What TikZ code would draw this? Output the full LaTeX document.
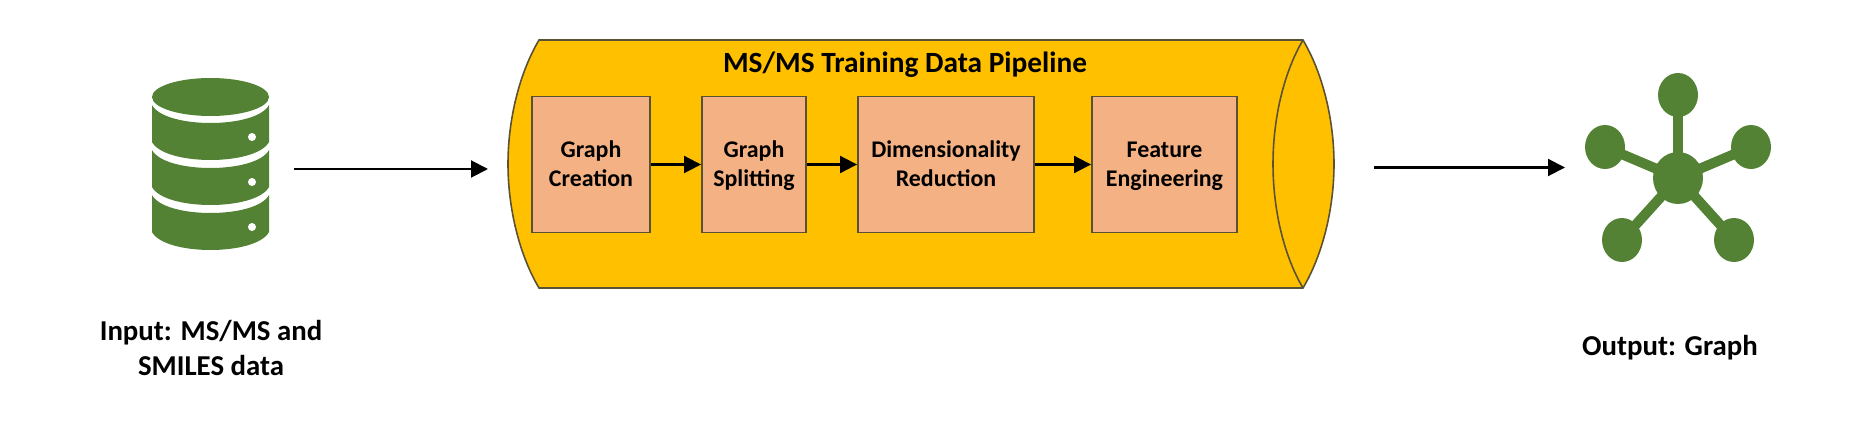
\documentclass[tikz,border=0pt]{standalone}
\usepackage{fontspec}
\setmainfont{Carlito}
\usetikzlibrary{arrows.meta,shapes.geometric}
\definecolor{pipeyellow}{HTML}{FFC000}
\definecolor{stepsalmon}{HTML}{F4B183}
\definecolor{icongreen}{HTML}{548235}
\definecolor{edgegray}{HTML}{5A5034}
\def\steptext#1#2{\rule{0pt}{13.8pt}#1\\#2\strut}
\tikzset{
    flow/.style={-{Triangle[length=0.34cm,width=0.34cm]},line width=1.15pt,black},
    stepbox/.style={draw=edgegray,fill=stepsalmon,line width=1.1pt,align=center,inner sep=0pt,
        minimum height=2.72cm,font=\fontsize{13.6}{16.5}\selectfont\bfseries},
    caption/.style={align=center,inner sep=0pt,font=\fontsize{16.4}{19.9}\selectfont\bfseries},
    hubnode/.style={ellipse,fill=icongreen,inner sep=0pt,minimum width=1cm,minimum height=1.04cm},
    leafnode/.style={ellipse,fill=icongreen,inner sep=0pt,minimum width=0.8cm,minimum height=0.88cm},
}
\begin{document}
\begin{tikzpicture}[x=0.02cm,y=-0.02cm]
    \useasboundingbox (0,0) rectangle (1863,426);
    %===========================================
    % database icon
    \fill[icongreen] (210.5,97) ellipse [x radius=58.5,y radius=19];
    \foreach \i in {0,45,90}{
        \fill[icongreen] (152,105+\i) .. controls (165,129+\i) and (256,129+\i) .. (269,105+\i)
            -- (269,142+\i) .. controls (256,166+\i) and (165,166+\i) .. (152,142+\i) -- cycle;
        \fill[white] (252,137+\i) circle (4);
    }
    \node[caption] (inputlabel) at (211,348) {Input: MS/MS and\\SMILES data};
    %===========================================
    % pipeline cylinder
    \draw[fill=pipeyellow,draw=edgegray,line width=0.9pt] (539,40) -- (1303,40)
        .. controls (1322,72) and (1334,118) .. (1334,164)
        .. controls (1334,210) and (1322,256) .. (1303,288) -- (539,288)
        .. controls (520,256) and (508,210) .. (508,164)
        .. controls (508,118) and (520,72) .. (539,40) -- cycle;
    \draw[draw=edgegray,line width=0.9pt] (1303,40)
        .. controls (1284,72) and (1273,118) .. (1273,164)
        .. controls (1273,210) and (1284,256) .. (1303,288);
    \node[inner sep=0pt,font=\fontsize{16.7}{19.9}\selectfont\bfseries] (title) at (905,65) {MS/MS Training Data Pipeline};
    \node[stepbox,minimum width=2.36cm] (creation) at (591,164.5) {\steptext{Graph}{Creation}};
    \node[stepbox,minimum width=2.08cm] (splitting) at (754,164.5) {\steptext{Graph}{Splitting}};
    \node[stepbox,minimum width=3.52cm] (reduction) at (946,164.5) {\steptext{Dimensionality}{Reduction}};
    \node[stepbox,minimum width=2.9cm] (engineering) at (1164.5,164.5) {\steptext{Feature}{Engineering}};
    \draw[flow] (creation) -- (splitting);
    \draw[flow] (splitting) -- (reduction);
    \draw[flow] (reduction) -- (engineering);
    %===========================================
    % outer arrows
    \coordinate (instart) at (294,169);
    \coordinate (inend) at (488,169);
    \coordinate (outstart) at (1374,167.5);
    \coordinate (outend) at (1565,167.5);
    \draw[flow] (instart) -- (inend);
    \draw[flow] (outstart) -- (outend);
    %===========================================
    % graph icon
    \node[hubnode] (hub) at (1678,178) {};
    \node[leafnode] (top) at (1678,95) {};
    \node[leafnode] (left) at (1605,147) {};
    \node[leafnode] (right) at (1751,147) {};
    \node[leafnode] (lowleft) at (1622,240) {};
    \node[leafnode] (lowright) at (1734,240) {};
    \foreach \n in {top,left,right,lowleft,lowright}
        \draw[icongreen,line width=5.7pt] (hub.center) -- (\n.center);
    \node[caption] (outputlabel) at (1670,348) {Output: Graph};
\end{tikzpicture}
\end{document}
